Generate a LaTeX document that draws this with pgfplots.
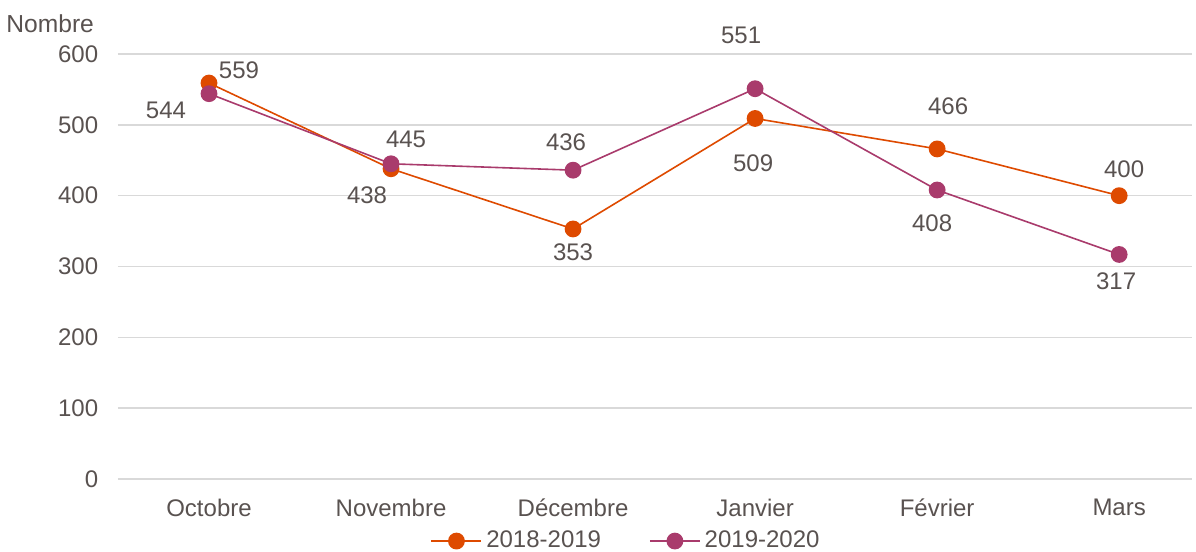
\documentclass[border=0pt]{standalone}
\usepackage{fontspec}
\setmainfont{Liberation Sans}
\usepackage{pgfplots}
\usepackage{pgfplotstable}
\pgfplotsset{compat=1.18}
\definecolor{txt}{HTML}{595250}
\definecolor{corange}{HTML}{DE4A00}
\definecolor{cpurple}{HTML}{A93B6C}
\definecolor{gridc}{HTML}{D9D9D9}
\pgfplotstableread{
x y dx dy
0 559 15 6.5
1 438 -12 -13
2 353 0 -11.5
3 509 -1 -22.5
4 466 5.5 21.5
5 400 2.5 13
}\tableA
\pgfplotstableread{
x y dx dy
0 544 -21.5 -8.5
1 445 7.5 12
2 436 -3.5 14
3 551 -7 26.5
4 408 -2.5 -16.5
5 317 -1.5 -13.5
}\tableB
\begin{document}
\begin{tikzpicture}
\useasboundingbox (-59pt,-36.5pt) rectangle (539pt,239.5pt);
\begin{axis}[
  scale only axis,
  width=537pt, height=212.5pt,
  xmin=-0.5, xmax=5.4,
  ymin=0, ymax=600,
  ytick={0,100,...,600},
  xtick={0,...,5},
  xticklabels={Octobre,Novembre,Décembre,Janvier,Février,Mars},
  axis line style={draw=none},
  major tick length=0pt,
  ymajorgrids,
  grid style={gridc, line width=0.8pt},
  tick label style={font=\fontsize{12}{14}\selectfont, text=txt},
  yticklabel style={xshift=-6.4pt},
  xticklabel style={yshift=-6.3pt},
  /pgf/number format/assume math mode=true,
  clip=false,
  legend columns=2,
  legend style={draw=none, fill=none, at={(rel axis cs:0.474,-0.146)}, anchor=center,
    font=\fontsize{12}{14}\selectfont, text=txt, inner sep=1pt,
    /tikz/every even column/.append style={column sep=22pt}},
  legend image code/.code={\draw[mark repeat=2,mark phase=2] plot coordinates {(0cm,0cm)(0.44cm,0cm)(0.88cm,0cm)};},
]
\addplot[corange, line width=0.8pt, mark=*, mark size=3.8pt, mark options={solid, fill=corange, draw=corange},
  nodes near coords,
  visualization depends on={\thisrow{dx}\as\dx},
  visualization depends on={\thisrow{dy}\as\dy},
  nodes near coords style={anchor=center, xshift=\dx pt, yshift=\dy pt,
    font=\fontsize{12}{14}\selectfont, text=txt}] table[x=x,y=y] {\tableA};
\addlegendentry{2018-2019}
\addplot[cpurple, line width=0.8pt, mark=*, mark size=3.8pt, mark options={solid, fill=cpurple, draw=cpurple},
  nodes near coords,
  visualization depends on={\thisrow{dx}\as\dx},
  visualization depends on={\thisrow{dy}\as\dy},
  nodes near coords style={anchor=center, xshift=\dx pt, yshift=\dy pt,
    font=\fontsize{12}{14}\selectfont, text=txt}] table[x=x,y=y] {\tableB};
\addlegendentry{2019-2020}
\node[anchor=east, xshift=-8.5pt, yshift=15pt, font=\fontsize{12.3}{14}\selectfont, text=txt] at (rel axis cs:0,1) {Nombre};
\end{axis}
\end{tikzpicture}
\end{document}
